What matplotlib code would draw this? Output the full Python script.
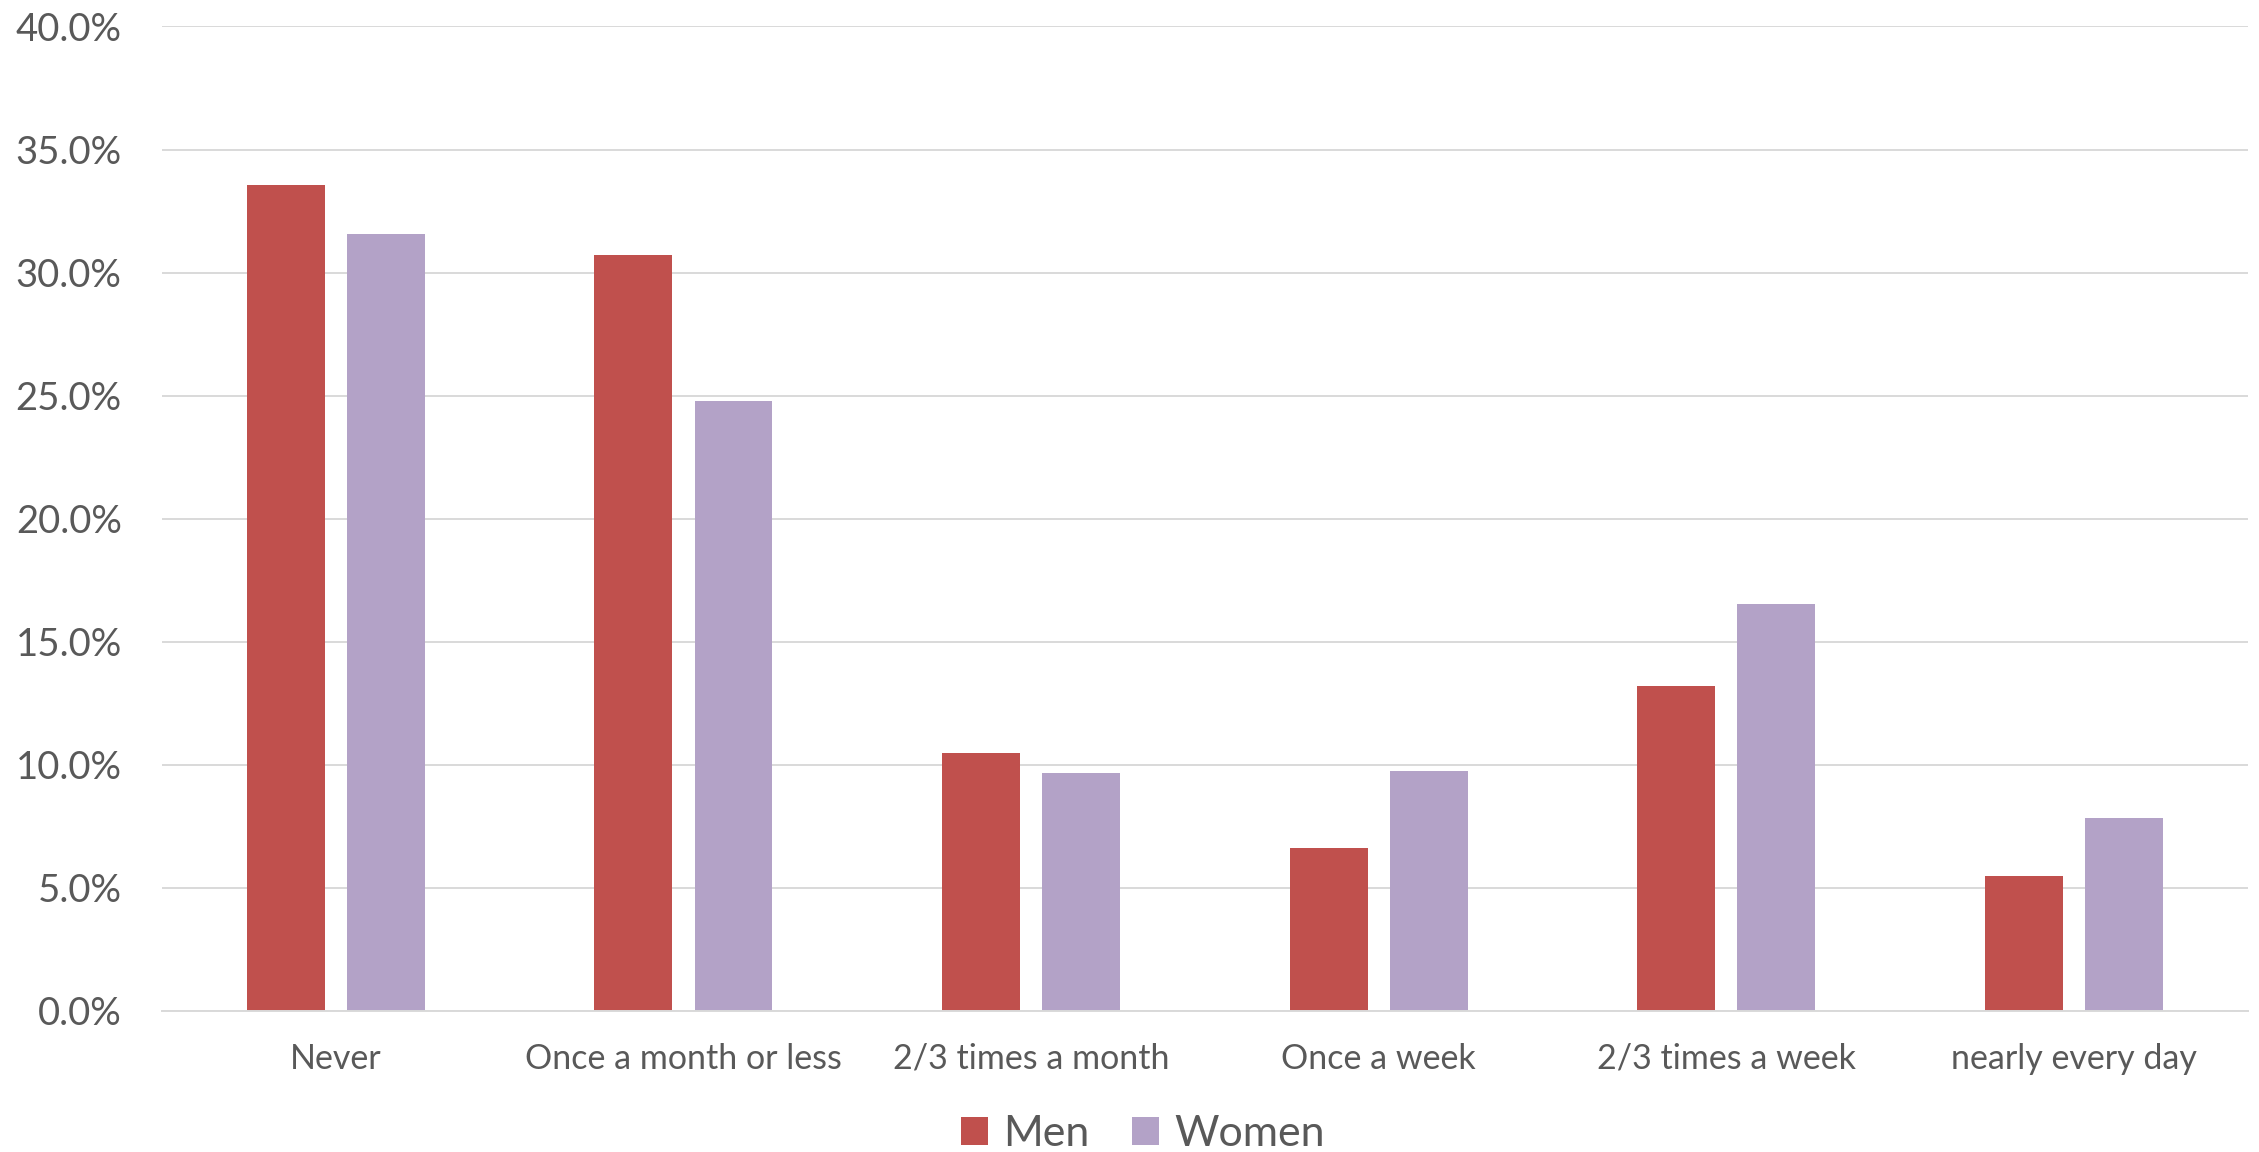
import numpy as np
import matplotlib
matplotlib.use("Agg")
import matplotlib.pyplot as plt
from matplotlib.ticker import PercentFormatter

categories = ["Never", "Once a month or less", "2/3 times a month",
              "Once a week", "2/3 times a week", "nearly every day"]
men = [33.57, 30.70, 10.47, 6.61, 13.22, 5.50]
women = [31.58, 24.80, 9.65, 9.77, 16.55, 7.84]

plt.rcParams['font.family'] = ['Lato', 'Liberation Sans', 'DejaVu Sans']

fig = plt.figure(figsize=(22.59, 11.52), dpi=100)
ax = fig.add_axes([0.0717, 0.1224, 0.9233, 0.8546])

x = np.arange(len(categories))
w = 0.224
off = 0.144
ax.bar(x - off, men, w, color="#c0504d", label="Men")
ax.bar(x + off, women, w, color="#b3a2c7", label="Women")

ax.set_xlim(-0.5, len(categories) - 0.5)
ax.set_ylim(0, 40)
ax.set_yticks(np.arange(0, 41, 5))
ax.yaxis.set_major_formatter(PercentFormatter(decimals=1))
ax.set_xticks(x)
ax.set_xticklabels(categories)

ax.grid(axis="y", color="#d9d9d9", linewidth=1.4)
ax.set_axisbelow(True)
for s in ["top", "right", "left"]:
    ax.spines[s].set_visible(False)
ax.spines["bottom"].set_color("#d9d9d9")
ax.spines["bottom"].set_linewidth(1.4)

ax.tick_params(axis="y", length=0, pad=29, labelsize=27.5, labelcolor="#595959")
ax.tick_params(axis="x", length=0, pad=23, labelsize=24.5, labelcolor="#595959")

leg = fig.legend(loc="center", bbox_to_anchor=(0.506, 0.0156), ncol=2, frameon=False,
                 fontsize=31, handlelength=0.62, handleheight=0.62,
                 handletextpad=0.35, columnspacing=1.0)
for t in leg.get_texts():
    t.set_color("#595959")

fig.savefig("out.png", dpi=100)
